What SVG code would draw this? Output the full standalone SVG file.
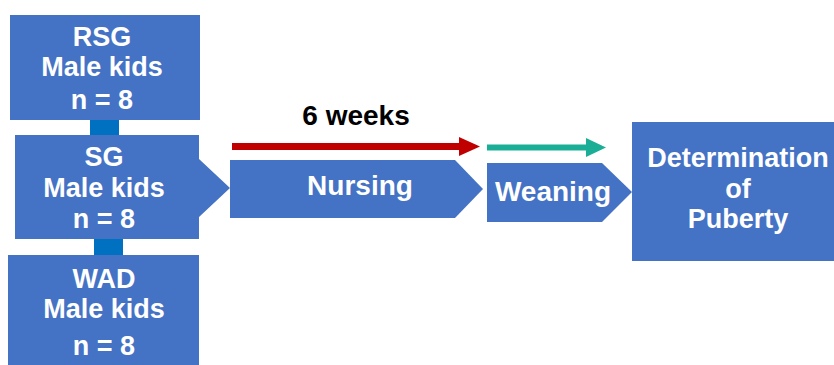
<svg xmlns="http://www.w3.org/2000/svg" width="834" height="365" viewBox="0 0 834 365">
<style>
.box{fill:#4472C4}
.link{fill:#0070C0}
.t{font-family:"Liberation Sans",Arial,sans-serif;font-weight:bold;font-size:27px;fill:#fff;text-anchor:middle}
.b{font-size:28px}
.k{fill:#000}
</style>
<rect width="834" height="365" fill="#fff"/>
<g id="connectors">
<rect class="link" x="90" y="113" width="29" height="23"/>
<rect class="link" x="94" y="236" width="29" height="20"/>
<path d="M232 146.5 H460" stroke="#C00000" stroke-width="7" fill="none"/>
<polygon points="459,137 480,146.5 459,156" fill="#C00000"/>
<path d="M487 147.5 H588" stroke="#1BAE96" stroke-width="6" fill="none"/>
<polygon points="586,138 606,147.5 586,157" fill="#1BAE96"/>
</g>
<g id="rsg">
<rect class="box" x="10" y="15" width="190" height="105"/>
<text class="t" x="102" y="46">RSG</text>
<text class="t" x="102" y="76">Male kids</text>
<text class="t" x="102" y="109">n = 8</text>
</g>
<g id="sg">
<polygon class="box" points="15,135 199,135 199,159 230,188 199,217 199,239 15,239"/>
<text class="t" x="104" y="166">SG</text>
<text class="t" x="104" y="197">Male kids</text>
<text class="t" x="104" y="228">n = 8</text>
</g>
<g id="wad">
<rect class="box" x="8" y="255" width="191" height="115"/>
<text class="t" x="104" y="288">WAD</text>
<text class="t" x="104" y="318">Male kids</text>
<text class="t" x="104" y="355">n = 8</text>
</g>
<g id="weeks">
<text class="t b k" x="356" y="125">6 weeks</text>
</g>
<g id="nursing">
<polygon class="box" points="230,160 455,160 483,189 455,218 230,218"/>
<text class="t b" x="360" y="195">Nursing</text>
</g>
<g id="weaning">
<polygon class="box" points="487,163 602,163 632,192 602,222 487,222"/>
<text class="t b" x="553" y="201">Weaning</text>
</g>
<g id="puberty">
<rect class="box" x="632" y="122" width="210" height="139"/>
<text class="t" x="738" y="167">Determination</text>
<text class="t" x="738" y="198">of</text>
<text class="t" x="738" y="228">Puberty</text>
</g>
</svg>
